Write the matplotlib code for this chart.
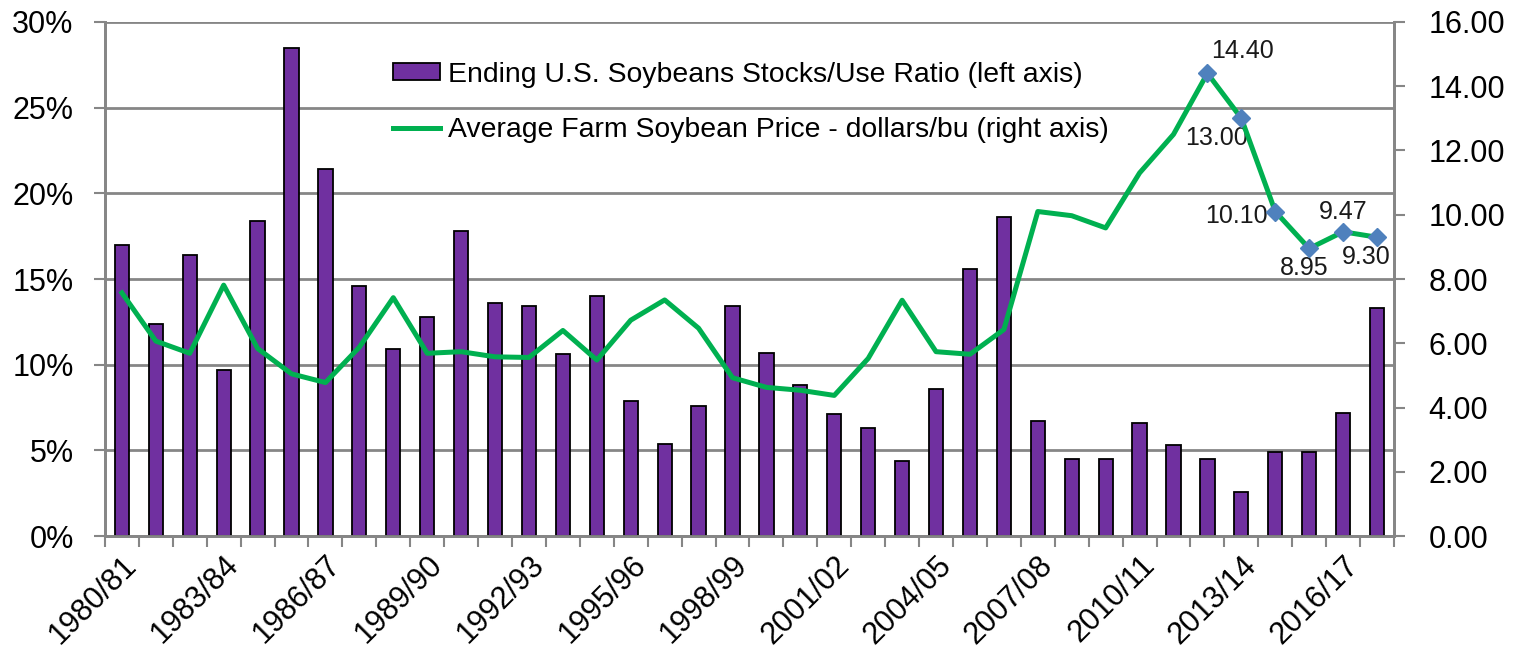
import numpy as np
import matplotlib
matplotlib.use('Agg')
import matplotlib.pyplot as plt
from matplotlib.ticker import FuncFormatter

plt.rcParams['font.family'] = ['Liberation Sans', 'DejaVu Sans']

# --- data ---
years = ['1980/81', '1981/82', '1982/83', '1983/84', '1984/85', '1985/86', '1986/87',
         '1987/88', '1988/89', '1989/90', '1990/91', '1991/92', '1992/93', '1993/94',
         '1994/95', '1995/96', '1996/97', '1997/98', '1998/99', '1999/00', '2000/01',
         '2001/02', '2002/03', '2003/04', '2004/05', '2005/06', '2006/07', '2007/08',
         '2008/09', '2009/10', '2010/11', '2011/12', '2012/13', '2013/14', '2014/15',
         '2015/16', '2016/17', '2017/18']
stocks_use = [17.0, 12.4, 16.4, 9.7, 18.4, 28.5, 21.4, 14.6, 10.9, 12.8,
              17.8, 13.6, 13.4, 10.6, 14.0, 7.9, 5.4, 7.6, 13.4, 10.7,
              8.8, 7.1, 6.3, 4.4, 8.6, 15.6, 18.6, 6.7, 4.5, 4.5,
              6.6, 5.3, 4.5, 2.6, 4.9, 4.9, 7.2, 13.3]
price = [7.57, 6.07, 5.69, 7.81, 5.84, 5.05, 4.78, 5.88, 7.42, 5.69,
         5.74, 5.58, 5.56, 6.40, 5.48, 6.72, 7.35, 6.47, 4.93, 4.63,
         4.54, 4.38, 5.53, 7.34, 5.74, 5.66, 6.43, 10.10, 9.97, 9.59,
         11.30, 12.50, 14.40, 13.00, 10.10, 8.95, 9.47, 9.30]
marked_years = ['2012/13', '2013/14', '2014/15', '2015/16', '2016/17', '2017/18']

n = len(years)
x = np.arange(n)

grey = '#868686'

fig = plt.figure(figsize=(15.21, 6.62), dpi=100)
ax = fig.add_axes([0.069, 0.19, 0.8475, 0.777])
ax2 = ax.twinx()

# bars on left axis
bars = ax.bar(x, stocks_use, width=0.42, color='#7030A0', edgecolor='black',
              linewidth=1.3, zorder=3, label='Ending U.S. Soybeans Stocks/Use Ratio (left axis)')
ax.set_ylim(0, 30)
ax.set_yticks(np.arange(0, 31, 5))
ax.yaxis.set_major_formatter(FuncFormatter(lambda v, p: f'{v:.0f}%'))
ax.set_xlim(-0.5, n - 0.5)
ax.grid(axis='y', color=grey, linewidth=2, zorder=0)
ax.set_axisbelow(True)

# price line on right axis
line, = ax2.plot(x, price, color='#00B050', linewidth=3.6, zorder=4,
                 label='Average Farm Soybean Price - dollars/bu (right axis)')
idx = [years.index(y) for y in marked_years]
ax2.plot(idx, [price[i] for i in idx], linestyle='none', marker='D', markersize=9.5,
         color='#4F81BD', zorder=5)
ax2.set_ylim(0, 16)
ax2.set_yticks(np.arange(0, 17, 2))
ax2.yaxis.set_major_formatter(FuncFormatter(lambda v, p: f'{v:.2f}'))

# data labels
offsets = [(25, 16), (-18, -14), (-28, -3.5), (-3.5, -14), (0, 14), (-8, -14)]
for i, off in zip(idx, offsets):
    ax2.annotate(f'{price[i]:.2f}', (i, price[i]), textcoords='offset points',
                 xytext=off, ha='center', va='center', fontsize=18, color='#1a1a1a')

# ticks and spines
ax.set_xticks(np.arange(n + 1) - 0.5)
ax.set_xticklabels([])
ax.set_xticks(x[::3], minor=True)
ax.set_xticklabels(years[::3], minor=True, rotation=45, ha='right', va='top',
                   rotation_mode='anchor', fontsize=22)
ax.tick_params(axis='x', which='major', length=8, width=1.5, color=grey, direction='out')
ax.tick_params(axis='x', which='minor', length=0, pad=10)
ax.tick_params(axis='y', length=8, width=1.5, color=grey, labelsize=22, pad=14.5)
ax2.tick_params(axis='y', length=8, width=1.5, color=grey, labelsize=22, pad=17)

for a in (ax, ax2):
    a.spines['top'].set_visible(False)
    for s in ('left', 'right', 'bottom'):
        a.spines[s].set_color(grey)
        a.spines[s].set_linewidth(2)

# legend
handles = [bars, line]
labels = [h.get_label() for h in handles]
leg = ax2.legend(handles, labels, loc='upper left', bbox_to_anchor=(0.2037, 0.972),
                 frameon=False, fontsize=20.4, handlelength=1.66, handleheight=0.57,
                 handletextpad=0.28, labelspacing=1.05)

fig.savefig('out.png', dpi=100)
